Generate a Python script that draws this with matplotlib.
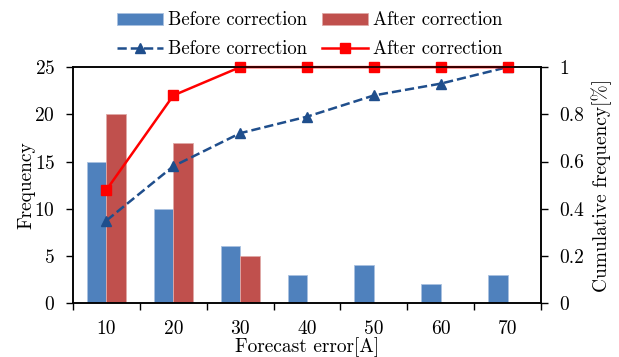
import numpy as np
import matplotlib
matplotlib.use('Agg')
import matplotlib.pyplot as plt
from matplotlib.ticker import FixedLocator, NullFormatter

# Data
CATEGORIES = ['10', '20', '30', '40', '50', '60', '70']
BEFORE_FREQ = [15, 10, 6, 3, 4, 2, 3]
AFTER_FREQ = [20, 17, 5, 0, 0, 0, 0]
BEFORE_CUM = [0.35, 0.58, 0.72, 0.79, 0.88, 0.93, 1.0]
AFTER_CUM = [0.48, 0.88, 1.0, 1.0, 1.0, 1.0, 1.0]
LEFT_TICKS = [0, 5, 10, 15, 20, 25]
RIGHT_TICKS = [0, 0.2, 0.4, 0.6, 0.8, 1.0]
RIGHT_LABELS = ['0', '0.2', '0.4', '0.6', '0.8', '1']

# Style
BAR_BLUE = '#4f81bd'
BAR_RED = '#c0504d'
LINE_BLUE = '#1f4e8c'
LINE_RED = '#ff0000'
BAR_WIDTH = 0.29
FONT_SIZE = 14
LEGEND_SIZE = 13.5

plt.rcParams['font.family'] = ['cmr10', 'DejaVu Serif']
plt.rcParams['axes.formatter.use_mathtext'] = True
plt.rcParams['font.size'] = FONT_SIZE

fig = plt.figure(figsize=(6.19, 3.57), dpi=100)
ax = fig.add_axes([0.118, 0.151, 0.756, 0.661])
ax2 = ax.twinx()

x = np.arange(len(CATEGORIES))
b1 = ax.bar(x - BAR_WIDTH / 2, BEFORE_FREQ, BAR_WIDTH, color=BAR_BLUE,
            edgecolor='#a9c1e0', linewidth=0.6, label='Before correction')
b2 = ax.bar(x + BAR_WIDTH / 2, AFTER_FREQ, BAR_WIDTH, color=BAR_RED,
            edgecolor='#e0a9a7', linewidth=0.6, label='After correction')

l1, = ax2.plot(x, BEFORE_CUM, color=LINE_BLUE, linestyle='--', linewidth=1.8,
               marker='^', markersize=7.5, label='Before correction', clip_on=False)
l2, = ax2.plot(x, AFTER_CUM, color=LINE_RED, linestyle='-', linewidth=1.8,
               marker='s', markersize=7, label='After correction', clip_on=False)

# Axes configuration
ax.set_xlim(-0.5, len(CATEGORIES) - 0.5)
ax.set_ylim(0, 25)
ax2.set_ylim(0, 1)
ax.xaxis.set_major_locator(FixedLocator(np.arange(-0.5, len(CATEGORIES), 1.0)))
ax.xaxis.set_major_formatter(NullFormatter())
ax.set_xticks(x, CATEGORIES, minor=True)
ax.tick_params(axis='x', which='major', direction='out', length=5, width=1)
ax.tick_params(axis='x', which='minor', length=0, pad=12)
ax.set_yticks(LEFT_TICKS)
ax.tick_params(axis='y', direction='out', length=5, width=1, pad=8)
ax2.set_yticks(RIGHT_TICKS, RIGHT_LABELS)
ax2.tick_params(axis='y', direction='out', length=5, width=1, pad=8)

for a in (ax, ax2):
    for s in a.spines.values():
        s.set_linewidth(1.1)

ax.set_xlabel('Forecast error[A]', labelpad=0)
ax.set_ylabel('Frequency', labelpad=-1)
ax2.set_ylabel('Cumulative frequency[%]', labelpad=5)

# Legends: bars on top row, lines below
leg1 = fig.legend(handles=[b1, b2], loc='center', bbox_to_anchor=(0.5, 0.943),
                  ncol=2, frameon=False, handlelength=2.45, handleheight=0.6,
                  columnspacing=0.8, handletextpad=0.27, fontsize=LEGEND_SIZE)
leg2 = fig.legend(handles=[l1, l2], loc='center', bbox_to_anchor=(0.5, 0.862),
                  ncol=2, frameon=False, handlelength=2.45,
                  columnspacing=0.8, handletextpad=0.27, fontsize=LEGEND_SIZE)

fig.savefig('out.png', dpi=100)
